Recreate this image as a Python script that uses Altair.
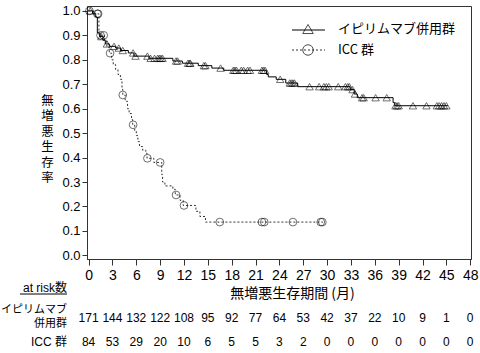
import altair as alt
import pandas as pd

FONT = "Liberation Sans, Noto Sans CJK JP"
JP = "Noto Sans CJK JP"

# Kaplan-Meier steps (time in months, survival after step)
ipi_t = [0, 0.5, 0.9, 1.1, 1.4, 1.8, 2.1, 2.6, 3.4, 4.0, 5.0, 5.7, 7.6, 10.6, 11.8, 13.8, 15.5, 17.0,
         22.4, 22.6, 23.6, 24.8, 26.3, 32.9, 33.4, 33.8, 38.3, 38.5, 45.2]
ipi_s = [1.0, 0.99, 0.975, 0.91, 0.895, 0.88, 0.865, 0.855, 0.848, 0.838, 0.828, 0.815, 0.806, 0.795,
         0.786, 0.776, 0.766, 0.757, 0.74, 0.73, 0.72, 0.705, 0.69, 0.678, 0.66, 0.645, 0.625, 0.612, 0.612]
ipi_cens = [0.2, 1.6, 2.3, 3.2, 3.8, 4.3, 5.6, 5.9, 7.4, 7.8, 8.3, 8.7, 8.9, 9.1, 9.3, 11.0, 11.2, 12.5,
            12.7, 12.8, 14.5, 14.7, 16.6, 18.2, 18.4, 18.6, 19.2, 19.5, 20.0, 20.3, 21.8, 22.0, 22.2, 24.1,
            25.3, 25.5, 25.7, 25.9, 27.8, 29.0, 29.6, 29.9, 30.2, 31.4, 32.3, 32.6, 32.8, 33.2, 33.5, 34.4,
            34.6, 36.1, 37.5, 38.6, 38.8, 39.0, 40.8, 42.5, 43.8, 44.1, 44.4, 44.7, 45.0]

icc_t = [0, 0.6, 1.3, 2.0, 2.3, 2.6, 2.9, 3.1, 3.4, 3.7, 4.0, 4.2, 4.3, 4.6, 4.9, 5.1, 5.4, 5.55, 5.8, 6.0,
         6.2, 6.4, 6.8, 7.2, 7.35, 8.2, 9.2, 9.3, 9.6, 10.6, 10.9, 11.5, 11.9, 13.5, 14.0, 14.7, 29.5]
icc_s = [1.0, 0.988, 0.90, 0.876, 0.852, 0.827, 0.80, 0.78, 0.76, 0.74, 0.72, 0.68, 0.656, 0.63, 0.60, 0.58,
         0.555, 0.534, 0.51, 0.49, 0.465, 0.445, 0.43, 0.418, 0.397, 0.38, 0.33, 0.30, 0.284, 0.27, 0.247,
         0.225, 0.204, 0.18, 0.159, 0.136, 0.136]
icc_cens = [0.1, 1.1, 1.2, 1.5, 1.9, 2.7, 4.3, 5.6, 7.4, 9.0, 11.0, 12.0, 16.5, 21.8, 22.1, 25.7, 29.2, 29.4]

risk_times = list(range(0, 49, 3))
risk_ipi = [171, 144, 132, 122, 108, 95, 92, 77, 64, 53, 42, 37, 22, 10, 9, 1, 0]
risk_icc = [84, 53, 29, 20, 10, 6, 5, 5, 3, 2, 0, 0, 0, 0, 0, 0, 0]

x_ticks = list(range(0, 49, 3))
y_ticks = [round(i / 10, 1) for i in range(11)]


def level_at(ts, ss, t):
    v = ss[0]
    for a, b in zip(ts, ss):
        if a <= t:
            v = b
    return v


ipi_df = pd.DataFrame({"t": ipi_t, "s": ipi_s})
icc_df = pd.DataFrame({"t": icc_t, "s": icc_s})
ipi_c = pd.DataFrame({"t": ipi_cens, "s": [level_at(ipi_t, ipi_s, t) for t in ipi_cens]})
icc_c = pd.DataFrame({"t": icc_cens, "s": [level_at(icc_t, icc_s, t) for t in icc_cens]})

xs = alt.Scale(domain=[-0.2, 48.1], nice=False, zero=False)
ys = alt.Scale(domain=[-0.015, 1.02], nice=False, zero=False)

X = alt.X("t:Q", scale=xs, axis=alt.Axis(
    values=x_ticks, title="無増悪生存期間 (月)", grid=False, labelFontSize=14, labelFont=FONT,
    labelPadding=3, tickSize=6, titleFont=JP, titleFontSize=14, titleFontWeight="normal",
    titleX=205, titleY=27, titleAnchor="middle", titleColor="black", labelColor="black",
    domainColor="#333", tickColor="#333", labelOverlap=False, labelFlush=False,
    labelSeparation=0, tickCount=17))
Y = alt.Y("s:Q", scale=ys, axis=alt.Axis(
    values=y_ticks, format=".1f", title=["無", "増", "悪", "生", "存", "率"], titleAngle=0,
    titleFont=JP, titleFontSize=12.5, titleFontWeight="normal", titleLineHeight=15.5,
    titleX=-40, titleY=94, titleBaseline="middle", titleAlign="center", grid=False,
    labelFontSize=13, labelFont=FONT, tickSize=5, labelPadding=2, titleColor="black",
    labelColor="black", domainColor="#333", tickColor="#333", labelOverlap=False, labelFlush=False,
    labelSeparation=0, tickCount=11))

ipi_line = alt.Chart(ipi_df).mark_line(interpolate="step-after", color="black", strokeWidth=1).encode(x=X, y=Y)
icc_line = alt.Chart(icc_df).mark_line(interpolate="step-after", color="#333", strokeWidth=1,
                                       strokeDash=[2, 2]).encode(x=X, y=Y)
ipi_pts = alt.Chart(ipi_c).mark_point(shape="triangle-up", size=55, filled=False, color="black",
                                      strokeWidth=0.8).encode(x=X, y=Y)
icc_pts = alt.Chart(icc_c).mark_point(shape="circle", size=60, filled=False, color="black",
                                      strokeWidth=0.8).encode(x=X, y=Y)

# legend
leg = pd.DataFrame({"k": [0]})
leg1_line = alt.Chart(leg).mark_rule(color="black", strokeWidth=1).encode(
    x=alt.value(205), x2=alt.value(238), y=alt.value(24))
leg1_pt = alt.Chart(leg).mark_point(shape="triangle-up", size=110, filled=False, color="black",
                                    strokeWidth=1).encode(x=alt.value(221), y=alt.value(23))
leg1_txt = alt.Chart(leg).mark_text(align="left", baseline="middle", font=JP, fontSize=13,
                                    color="black").encode(x=alt.value(251), y=alt.value(23),
                                                          text=alt.value("イピリムマブ併用群"))
leg2_line = alt.Chart(leg).mark_rule(color="#333", strokeWidth=1, strokeDash=[2, 2]).encode(
    x=alt.value(205), x2=alt.value(238), y=alt.value(44))
leg2_pt = alt.Chart(leg).mark_point(shape="circle", size=110, filled=False, color="black",
                                    strokeWidth=1).encode(x=alt.value(221), y=alt.value(44))
leg2_txt = alt.Chart(leg).mark_text(align="left", baseline="middle", font=JP, fontSize=13,
                                    color="black").encode(x=alt.value(251), y=alt.value(44),
                                                          text=alt.value("ICC 群"))

# at-risk table
risk_df = pd.DataFrame({"t": risk_times, "a": risk_ipi, "b": risk_icc})
risk1 = alt.Chart(risk_df).mark_text(font=FONT, fontSize=12, color="black", baseline="middle").encode(
    x=X, y=alt.value(312), text="a:Q")
risk2 = alt.Chart(risk_df).mark_text(font=FONT, fontSize=12, color="black", baseline="middle").encode(
    x=X, y=alt.value(336), text="b:Q")
hdr = alt.Chart(leg).mark_text(align="right", baseline="middle", font=FONT, fontSize=12,
                               color="black").encode(x=alt.value(-20), y=alt.value(282),
                                                     text=alt.value("at risk数"))
hdr_ul = alt.Chart(leg).mark_rule(color="black", strokeWidth=1).encode(
    x=alt.value(-67), x2=alt.value(-20), y=alt.value(288))
lab1 = alt.Chart(leg).mark_text(align="right", baseline="middle", font=JP, fontSize=11, lineHeight=14,
                                color="black").encode(x=alt.value(-20), y=alt.value(304),
                                                      text=alt.value(["イピリムマブ", "併用群"]))
lab2 = alt.Chart(leg).mark_text(align="right", baseline="middle", font=FONT, fontSize=12,
                                color="black").encode(x=alt.value(-20), y=alt.value(336),
                                                      text=alt.value("ICC 群"))

chart = alt.layer(
    ipi_line, icc_line, ipi_pts, icc_pts,
    leg1_line, leg1_pt, leg1_txt, leg2_line, leg2_pt, leg2_txt,
    risk1, risk2, hdr, hdr_ul, lab1, lab2
).properties(
    width=384, height=253,
    autosize=alt.AutoSizeParams(type="none"),
    padding={"left": 87, "top": 6, "right": 9, "bottom": 94},
    background="white",
).configure_view(stroke="#333", strokeWidth=1)

chart.save("out.html", embed_options={"renderer": "svg", "actions": False})
